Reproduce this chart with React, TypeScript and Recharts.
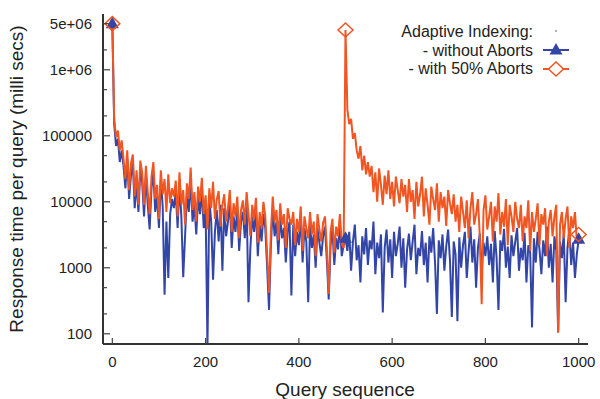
import React from "react";
import { LineChart, Line, XAxis, YAxis } from "recharts";

const BLUE = "#3346a8";
const ORANGE = "#f05522";
const FRAME = "#333";
const TEXT = "#222";
const FONT = '"Liberation Sans", Arial, Helvetica, sans-serif';

// one sample every 4 queries, 0..1000
const QUERY_STEP = 4;

const withoutAborts = [
  5000000,
  150000, 70000, 90000, 40000, 60000,
  35000, 16000, 45000, 11000, 25000, 38000, 8000, 20000, 7000, 30000,
  20000, 6000, 25000, 9000, 3800, 16000, 28000, 7000, 12000, 4000, 22000, 8500, 390, 5000, 700, 6500, 11000,
  8000, 14000, 4000, 19000, 6000, 720, 3000, 13000, 7000, 22000,
  5000, 9000, 3200, 12000, 6500, 15000, 4000, 8000, 65, 11000,
  5000, 660, 3500, 7500, 2500, 9000, 900,
  8000, 3000, 5000, 10000, 2000, 6000, 3500, 8000, 1800, 5000,
  7000, 2800, 9000, 300, 2000, 6000, 3500, 7500, 1500, 4500,
  2500, 6500, 4000, 1000, 230, 2200, 8000, 3000, 5000, 1600,
  6000, 2800, 4000, 1200, 3500, 5000,
  380, 4500, 1500, 3500, 2200, 6000, 1200, 4000, 2500, 300,
  4500, 2000, 3200, 1000, 4000, 2400, 1500, 3000, 4200, 1300,
  330, 2200, 3800, 1100, 2800, 1900, 4500, 1500, 2200,
  2800,
  1800, 3500, 900, 2500, 4500, 1300, 2200, 600, 3000, 1600,
  4000, 1100, 2600, 1900, 5000, 800, 2400, 1400, 3200, 210,
  2000, 3800, 1200, 2700, 700,
  3500, 1500, 2300, 4200, 1000, 2800, 500, 1900, 3300, 1300,
  2500, 4500, 800, 2000, 1500, 3600, 1100, 2400, 600, 3000,
  1700, 4000, 1200, 200, 2600,
  1400, 3200, 900, 2100, 3800, 1300, 180, 2500, 1600, 155,
  2900, 1000, 2200, 3500, 700, 1800, 4200, 1200, 2700, 500,
  2000, 3300, 900, 2400, 1500,
  3000, 1100, 2300, 600, 3600, 1400, 230, 2600, 1800, 3900,
  1000, 2100, 700, 3100, 1500, 2500, 4000, 900, 2000, 1300,
  3400, 600, 2200, 1700, 125,
  2800, 1200, 3500, 1900, 800, 2600, 1500, 4200, 1000, 2300,
  600, 3000, 1800, 105, 2500, 1400, 3300, 300, 2000, 3800,
  1100, 2400, 700, 1600, 2700,
];

const withAborts = [
  5000000,
  180000, 95000, 120000, 60000, 85000,
  45000, 22000, 60000, 15000, 38000, 52000, 12000, 30000, 9000, 42000,
  28000, 9000, 35000, 14000, 6500, 24000, 40000, 11000, 18000, 5500, 30000, 13000, 22000, 7000, 26000, 9500, 16000,
  12000, 21000, 6000, 28000, 9000, 15000, 4500, 19000, 11000, 33000,
  7500, 14000, 5000, 17000, 10000, 23000, 6500, 12500, 3800, 16000,
  8000, 20000, 5500, 11000, 14500, 4200, 9000,
  13000, 5000, 8000, 15000, 3500, 9500, 6000, 12000, 2800, 7500,
  10500, 4500, 14000, 6500, 3000, 9000, 5500, 11500, 2400, 7000,
  4000, 10000, 6000, 1600, 420, 3500, 12000, 5000, 7500, 2600,
  9500, 4500, 6500, 2000, 8000, 5500,
  4500, 7000, 2200, 5500, 3500, 8500, 1800, 6000, 4000, 2800,
  7000, 3200, 5000, 1500, 6500, 3800, 2500, 4800, 6000, 2000,
  400, 3500, 5500, 1700, 4200, 3000, 6500, 2300, 2000,
  4000000,
  250000, 150000, 180000, 90000, 110000,
  60000, 45000, 70000, 30000, 50000, 26000, 40000, 24000,
  35000, 14000, 28000, 10000, 32000, 18000, 9000, 25000, 13000, 30000,
  11000, 20000, 8500, 24000, 15000, 9500, 22000, 12000,
  18000, 7000, 22000, 10000, 15000, 5500, 20000, 8500, 13000, 24000,
  6000, 16000, 9000, 4500, 17000, 11000, 7500, 19000, 5000, 14000,
  8000, 12000, 4300, 15000, 9500, 6500,
  13000, 5000, 9000, 3500, 12000, 7000, 4000, 10500, 2800, 8000,
  14000, 4500, 6500, 11000, 3000, 280, 7500, 12500, 3800, 6000,
  10000, 2500, 8500, 5000, 13500, 3200, 7000, 4200, 11000, 2200,
  9000, 6000, 3500, 10000, 5500, 4000,
  9000, 2500, 6000, 4000, 10500, 1800, 7000, 3500, 5500, 9500,
  2200, 6500, 4500, 8000, 1500, 5000, 7500, 3000, 6000, 9000,
  105, 4500, 7000, 2800, 5500, 8500, 2000, 6000, 4000, 7000,
  2600, 3200,
];

const xTicks = [0, 200, 400, 600, 800, 1000];
const yTicks = [100, 200, 500, 1000, 2000, 5000, 10000, 20000, 50000, 100000, 200000, 500000, 1000000, 2000000, 5000000];
const yMajor = [100, 1000, 10000, 100000, 1000000, 5000000];

const data = withoutAborts.map((v, i) => ({
  q: i * QUERY_STEP,
  without: v,
  with: withAborts[i],
}));

const fmtY = (v: number) => (v >= 1000000 ? `${v / 1000000}e+06` : String(v));

function YTickLeft(props: any) {
  const { x, y, payload } = props;
  const major = yMajor.includes(payload.value);
  return (
    <g>
      <line x1={x} x2={x + (major ? 7 : 4)} y1={y} y2={y} stroke="#444" strokeWidth={1.2} />
      {major && (
        <text x={x - 11} y={y + 5.3} textAnchor="end" fontSize={15} fontFamily={FONT} fill={TEXT}>
          {fmtY(payload.value)}
        </text>
      )}
    </g>
  );
}

function YTickRight(props: any) {
  const { x, y, payload } = props;
  const major = yMajor.includes(payload.value);
  return <line x1={x} x2={x - (major ? 7 : 4)} y1={y} y2={y} stroke="#444" strokeWidth={1.2} />;
}

function XTickBottom(props: any) {
  const { x, y, payload } = props;
  return (
    <g>
      <line x1={x} x2={x} y1={y} y2={y - 6} stroke="#444" strokeWidth={1.2} />
      <text x={x} y={y + 23} textAnchor="middle" fontSize={15} fontFamily={FONT} fill={TEXT}>
        {payload.value}
      </text>
    </g>
  );
}

function XTickTop(props: any) {
  const { x, y } = props;
  return <line x1={x} x2={x} y1={y} y2={y + 6} stroke="#444" strokeWidth={1.2} />;
}

function TriangleDot(props: any) {
  const { cx, cy, payload, index } = props;
  if (payload.q % 500 !== 0) return <g key={index} />;
  return (
    <polygon
      key={index}
      points={`${cx},${cy - 7} ${cx - 6.5},${cy + 4.5} ${cx + 6.5},${cy + 4.5}`}
      fill={BLUE}
    />
  );
}

function DiamondDot(props: any) {
  const { cx, cy, payload, index } = props;
  if (payload.q % 500 !== 0) return <g key={index} />;
  return (
    <polygon
      key={index}
      points={`${cx},${cy - 7} ${cx + 7.5},${cy} ${cx},${cy + 7} ${cx - 7.5},${cy}`}
      fill="none"
      stroke={ORANGE}
      strokeWidth={1.5}
    />
  );
}

function ChartLegend() {
  const tx = 533;
  return (
    <svg width={600} height={100} style={{ position: "absolute", left: 0, top: 0, pointerEvents: "none" }}>
      <g fontFamily={FONT} fontSize={16} fill={TEXT} textAnchor="end">
        <text x={tx} y={37}>Adaptive Indexing:</text>
        <text x={tx} y={55.5}>- without Aborts</text>
        <text x={tx} y={74}>- with 50% Aborts</text>
      </g>
      <circle cx={556} cy={31} r={0.7} fill={TEXT} />
      <line x1={543} x2={569} y1={50} y2={50} stroke={BLUE} strokeWidth={2} />
      <polygon points="556,43 549.5,54.5 562.5,54.5" fill={BLUE} />
      <line x1={543} x2={569} y1={69} y2={69} stroke={ORANGE} strokeWidth={2} />
      <polygon points="556,62 563.5,69 556,76 548.5,69" fill="white" stroke={ORANGE} strokeWidth={1.5} />
    </svg>
  );
}

export default function App() {
  return (
    <div style={{ position: "absolute", left: 0, top: 0, width: 600, height: 399, background: "#fff" }}>
      <LineChart width={600} height={399} data={data} margin={{ top: 14, right: 12, bottom: 0, left: 0 }}>
        <XAxis
          xAxisId="b"
          dataKey="q"
          type="number"
          domain={[-20, 1020]}
          ticks={xTicks}
          interval={0}
          tickSize={0}
          tickMargin={0}
          tickLine={false}
          tick={<XTickBottom />}
          axisLine={{ stroke: FRAME, strokeWidth: 2 }}
          height={55}
          label={{
            content: () => (
              <text x={345} y={396} textAnchor="middle" fontSize={19} fontFamily={FONT} fill={TEXT}>
                Query sequence
              </text>
            ),
          }}
        />
        <XAxis
          xAxisId="t"
          orientation="top"
          type="number"
          domain={[-20, 1020]}
          allowDataOverflow
          ticks={xTicks}
          interval={0}
          tickSize={0}
          tickMargin={0}
          tickLine={false}
          tick={<XTickTop />}
          axisLine={{ stroke: FRAME, strokeWidth: 2 }}
          height={0}
        />
        <YAxis
          yAxisId="l"
          scale="log"
          type="number"
          domain={[70, 7000000]}
          allowDataOverflow
          ticks={yTicks}
          interval={0}
          tickSize={0}
          tickMargin={0}
          tickLine={false}
          tick={<YTickLeft />}
          axisLine={{ stroke: FRAME, strokeWidth: 2 }}
          width={103}
          label={{
            content: () => (
              <text
                transform="translate(23,179) rotate(-90)"
                textAnchor="middle"
                fontSize={19}
                fontFamily={FONT}
                fill={TEXT}
              >
                Response time per query (milli secs)
              </text>
            ),
          }}
        />
        <YAxis
          yAxisId="r"
          orientation="right"
          scale="log"
          type="number"
          domain={[70, 7000000]}
          allowDataOverflow
          ticks={yTicks}
          interval={0}
          tickSize={0}
          tickMargin={0}
          tickLine={false}
          tick={<YTickRight />}
          axisLine={{ stroke: FRAME, strokeWidth: 2 }}
          width={0}
        />
        <Line
          xAxisId="b"
          yAxisId="l"
          type="linear"
          dataKey="without"
          stroke={BLUE}
          strokeWidth={2}
          dot={<TriangleDot />}
          activeDot={false}
          isAnimationActive={false}
        />
        <Line
          xAxisId="b"
          yAxisId="l"
          type="linear"
          dataKey="with"
          stroke={ORANGE}
          strokeWidth={2}
          dot={<DiamondDot />}
          activeDot={false}
          isAnimationActive={false}
        />
      </LineChart>
      <ChartLegend />
    </div>
  );
}
